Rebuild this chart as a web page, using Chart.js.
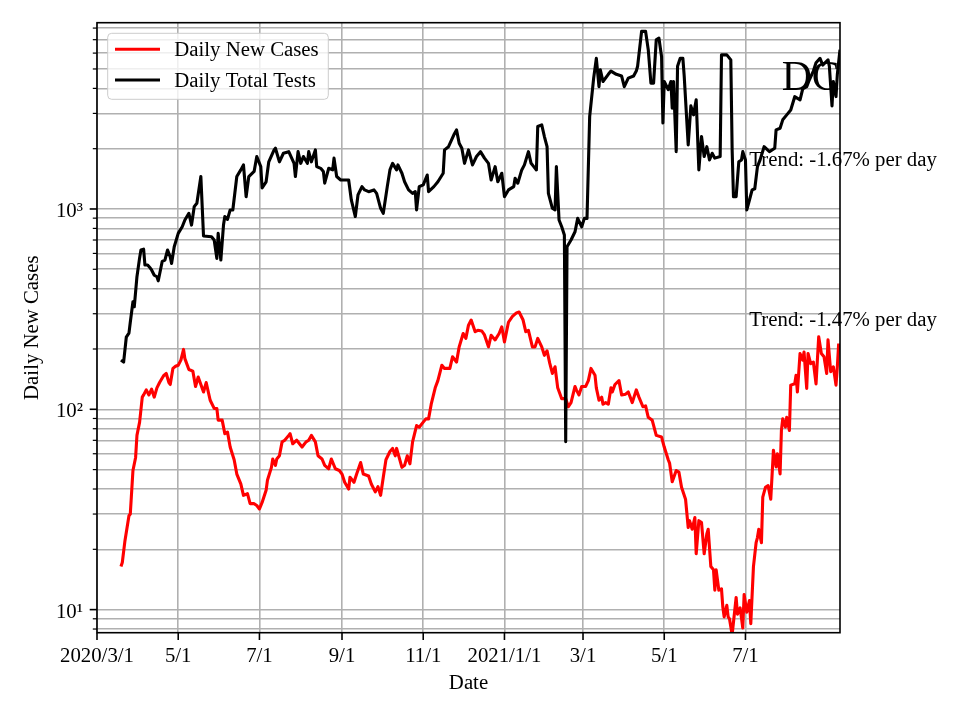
<!DOCTYPE html>
<html>
<head>
<meta charset="utf-8">
<script src="https://cdn.jsdelivr.net/npm/chart.js@4.4.0/dist/chart.umd.min.js"></script>
<style>
html, body { margin: 0; padding: 0; background: #fff; }
</style>
</head>
<body>
<canvas id="chart" width="960" height="720"></canvas>
<script>
// Days are counted from 2020-03-01
const xTickDays = [0, 61, 122, 184, 245, 306, 365, 426, 487];
const xTickLabels = ['2020/3/1', '5/1', '7/1', '9/1', '11/1', '2021/1/1', '3/1', '5/1', '7/1'];
const yTickValues = [8, 9, 10, 20, 30, 40, 50, 60, 70, 80, 90, 100, 200, 300, 400, 500, 600, 700, 800, 900,
  1000, 2000, 3000, 4000, 5000, 6000, 7000, 8000];
const yTickLabels = { 10: '10¹', 100: '10²', 1000: '10³' };

const caseDays = [18,19,21,24,25,27,29,30,32,34,35,37,39,41,43,45,47,50,52,54,
  55,57,59,61,63,65,66,69,72,74,76,78,80,82,85,88,90,91,94,96,
  98,100,103,105,108,110,113,115,118,120,122,124,127,128,131,132,134,135,137,139,
  141,144,145,147,150,154,157,159,161,164,166,169,171,174,176,179,182,184,186,189,
  190,193,195,198,200,204,206,209,211,213,215,217,220,222,224,225,229,231,233,235,
  237,240,242,245,247,249,251,254,256,259,261,265,267,270,272,275,277,279,281,284,
  286,289,291,294,296,299,302,304,306,309,312,315,317,320,322,324,327,329,331,334,
  336,338,340,342,344,346,349,352,354,356,359,360,362,364,367,369,371,374,375,377,
  379,380,382,384,386,387,389,392,394,397,399,402,405,407,410,412,414,417,420,424,
  426,429,430,432,435,437,439,442,444,445,447,449,450,452,454,456,458,459,461,463,
  464,465,467,469,470,471,473,474,475,477,480,481,483,485,486,488,490,491,493,495,
  496,497,499,500,502,504,506,508,510,511,513,514,515,517,518,520,521,524,525,526,
  528,530,531,533,534,536,538,540,542,544,546,548,549,551,553,555,556,557];
const caseValues = [16.4,17.2,22.1,29.4,30.0,49.5,57.5,74.1,86.3,115,118,125,118,126,115,128,136,147,151,136,
  133,160,164,166,176,199,179,158,155,130,145,133,122,136,111,101,101,88.3,88.3,75.6,
  77,64.8,56,47.5,42.4,37.2,37.9,33.8,33.8,33.1,31.8,34.3,39.4,44.2,51.3,56.5,52.5,56.5,58.6,68.8,
  70.1,74.1,75.6,67.3,70.1,64.8,68.8,70.1,74.1,68.8,58.6,56.5,52.5,50.5,56.5,50.5,49.5,47.5,43.2,40.0,
  45.8,43.2,47.5,54.2,47.5,46.5,42.4,38.7,41.1,37.2,45.8,56,61.6,63.8,58.6,63.8,51.3,52.5,58.6,53.4,
  68.8,83,81.4,86.3,89.6,89.6,106,128,139,166,160,160,183,172,205,239,226,263,279,244,
  248,246,235,205,234,222,239,258,217,272,291,303,306,279,244,248,205,205,226,205,
  186,196,170,151,163,128,113,113,103,108,130,125,118,130,130,139,160,148,128,111,
  115,106,108,106,128,122,133,139,118,119,122,108,125,115,103,104,91.2,88.1,74.1,72.7,
  64.8,56,53.9,43.5,49.5,48.6,40.8,35.6,25.7,27.8,25.2,28.8,19.0,27.8,27.2,19.0,23.9,25.2,16.4,15.8,
  12.5,15.8,12.5,12.7,10.3,9.2,10.5,9.2,9.0,7.5,11.5,9.5,10.2,8.1,11.9,9.7,11.1,8.5,16.4,21.6,
  22.9,25.2,21.6,36.4,40.8,41.6,35.6,62.4,51.6,60.0,47.6,78.5,89.6,81.5,91.2,78.5,132,134,148,122,
  190,176,193,127,190,169,172,134,230,190,183,151,222,154,163,132,163,213];

const testDays = [18,20,22,24,25,27,28,30,32,33,35,36,38,40,41,43,45,46,49,51,
  53,55,56,58,61,64,66,69,71,73,75,78,80,86,88,90,91,93,95,96,
  98,100,102,105,108,110,112,114,118,120,123,124,127,129,133,134,137,140,144,148,
  149,151,153,155,158,159,161,164,165,168,170,171,174,177,178,180,183,186,189,191,
  194,196,199,201,204,208,210,213,215,218,220,222,225,226,229,231,234,237,239,240,
  242,245,248,249,253,256,260,261,264,268,270,272,274,276,279,282,285,288,291,294,
  296,299,301,304,306,309,313,314,316,319,321,324,326,328,330,331,334,336,338,339,
  342,344,345,347,349,351,352,353,356,359,361,364,366,368,370,373,375,377,378,380,
  384,386,390,394,396,399,403,405,406,409,412,414,416,418,420,422,424,425,426,429,
  431,432,433,435,436,438,440,441,444,446,448,450,452,454,456,458,460,462,464,468,
  469,473,476,477,478,480,482,484,485,487,488,490,492,494,496,498,501,505,509,510,
  513,515,518,521,524,528,530,533,535,538,540,543,545,549,550,552,553,555,556,558];
const testValues = [176,172,229,240,272,344,325,459,570,624,630,525,525,507,496,467,459,438,548,556,
  624,577,535,648,756,815,881,952,831,1027,1068,1452,733,727,700,567,756,556,831,917,
  887,989,989,1452,1567,1660,1152,1452,1540,1828,1627,1273,1367,1720,1972,2010,1720,1897,1933,1690,
  1452,1933,1690,1828,1690,1933,1720,1972,1627,1596,1540,1345,1596,1567,1794,1452,1396,1396,1396,1109,
  917,1175,1293,1245,1220,1245,1197,1008,952,1293,1567,1690,1567,1660,1508,1367,1245,1197,1220,989,
  1293,1320,1478,1220,1293,1367,1508,1972,2046,2347,2482,2130,2010,1690,1972,1660,1828,1933,1794,1690,
  1396,1627,1367,1508,1152,1245,1293,1424,1345,1567,1660,1933,1690,1627,1567,2580,2630,2300,2046,1197,
  1008,989,1627,881,815,741,69,648,700,770,898,815,898,898,2890,4500,5650,4080,4955,4330,
  4700,4880,4700,4610,4080,4500,4610,4880,5160,7700,7700,6240,4250,4250,6990,7130,5760,2687,4330,3940,
  4330,3185,4330,1933,5160,5650,5650,4610,2087,3270,2950,3508,1567,2300,1828,2046,1758,1897,1794,1828,
  5880,5880,5550,1972,1152,1152,1720,1758,1933,1758,989,1109,1245,1262,1627,1758,2046,1933,2010,2482,
  2530,2786,2950,3120,3635,3508,3980,4080,4416,4880,5370,5650,5230,5550,5160,3270,4330,3640,4700,6240];

const regionName = 'DC';
const trendTexts = ['Trend: -1.67% per day', 'Trend: -1.47% per day'];

const serif = "'Liberation Serif', 'Times New Roman', serif";
Chart.defaults.font.family = serif;
Chart.defaults.font.size = 20.8;
Chart.defaults.color = '#000';

function toPoints(days, values) {
  return days.map((d, i) => ({ x: d, y: values[i] }));
}

// spines, tick marks, annotations and the legend box
const decor = {
  id: 'decor',
  afterDraw(chart) {
    const { ctx, chartArea: a, scales: { x, y } } = chart;
    const w = a.right - a.left, h = a.bottom - a.top;
    ctx.save();
    ctx.strokeStyle = '#000';
    ctx.lineWidth = 1.6;
    x.ticks.forEach(t => {
      const px = x.getPixelForValue(t.value);
      ctx.beginPath(); ctx.moveTo(px, a.bottom); ctx.lineTo(px, a.bottom + 7.3); ctx.stroke();
    });
    y.ticks.forEach(t => {
      const py = y.getPixelForValue(t.value);
      const major = yTickLabels[t.value] !== undefined;
      ctx.lineWidth = major ? 1.6 : 1.2;
      ctx.beginPath(); ctx.moveTo(a.left, py); ctx.lineTo(a.left - (major ? 7.3 : 4.2), py); ctx.stroke();
    });
    ctx.lineWidth = 1.6;
    ctx.strokeRect(a.left, a.top, w, h);

    ctx.fillStyle = '#000';
    ctx.textAlign = 'left';
    ctx.textBaseline = 'alphabetic';
    ctx.font = '41.7px ' + serif;
    ctx.fillText(regionName, a.left + 0.9215 * w, a.top + 0.1103 * h);
    ctx.font = '20.8px ' + serif;
    ctx.fillText(trendTexts[0], a.left + 0.878 * w, a.top + 0.2344 * h);
    ctx.fillText(trendTexts[1], a.left + 0.878 * w, a.top + 0.4972 * h);

    // legend
    const lx = a.left + 10.7, ly = a.top + 10.6, lw = 220.6, lh = 66, r = 4;
    ctx.beginPath();
    ctx.moveTo(lx + r, ly);
    ctx.arcTo(lx + lw, ly, lx + lw, ly + lh, r);
    ctx.arcTo(lx + lw, ly + lh, lx, ly + lh, r);
    ctx.arcTo(lx, ly + lh, lx, ly, r);
    ctx.arcTo(lx, ly, lx + lw, ly, r);
    ctx.closePath();
    ctx.fillStyle = 'rgba(255,255,255,0.8)';
    ctx.fill();
    ctx.strokeStyle = '#cccccc';
    ctx.lineWidth = 1;
    ctx.stroke();
    chart.data.datasets.forEach((ds, i) => {
      const cy = ly + 16 + i * 30.7;
      ctx.strokeStyle = ds.borderColor;
      ctx.lineWidth = 3.1;
      ctx.beginPath(); ctx.moveTo(lx + 7.3, cy); ctx.lineTo(lx + 52.3, cy); ctx.stroke();
      ctx.fillStyle = '#000';
      ctx.fillText(ds.label, lx + 66.6, cy + 6.8);
    });
    ctx.restore();
  }
};

const chart = new Chart(document.getElementById('chart'), {
  type: 'line',
  data: {
    datasets: [
      { label: 'Daily New Cases', data: toPoints(caseDays, caseValues), borderColor: '#ff0000', order: 1 },
      { label: 'Daily Total Tests', data: toPoints(testDays, testValues), borderColor: '#000000', order: 0 }
    ]
  },
  options: {
    responsive: false,
    animation: false,
    devicePixelRatio: 1,
    layout: { padding: { left: 0, right: 120, top: 22.7, bottom: 0 } },
    plugins: { legend: { display: false }, tooltip: { enabled: false } },
    elements: {
      point: { radius: 0 },
      line: { tension: 0, borderWidth: 3.1, borderJoinStyle: 'round', fill: false }
    },
    scales: {
      x: {
        type: 'linear',
        min: 0,
        max: 558,
        bounds: 'data',
        afterBuildTicks: s => { s.ticks = xTickDays.map(v => ({ value: v })); },
        afterFit: s => { s.height = 87.3; s.paddingLeft = 0; s.paddingRight = 0; },
        grid: { color: '#b0b0b0', lineWidth: 1.6, drawTicks: false },
        border: { display: false },
        ticks: {
          autoSkip: false, maxRotation: 0, minRotation: 0, padding: 11,
          font: { size: 20.8, lineHeight: 1.2 },
          callback: v => xTickLabels[xTickDays.indexOf(v)]
        },
        title: { display: true, text: 'Date', font: { size: 20.8, lineHeight: 1.2 }, padding: { top: 0, bottom: 23.5 } }
      },
      y: {
        type: 'logarithmic',
        min: 7.67,
        max: 8510,
        bounds: 'data',
        afterBuildTicks: s => { s.ticks = yTickValues.map(v => ({ value: v })); },
        afterFit: s => { s.width = 97; s.paddingTop = 0; s.paddingBottom = 0; },
        grid: { color: '#b0b0b0', lineWidth: 1.6, drawTicks: false },
        border: { display: false },
        ticks: {
          autoSkip: false, padding: 14, labelOffset: 2.7,
          font: { size: 20.8, lineHeight: 1.2 },
          callback: v => yTickLabels[v] || ''
        },
        title: { display: true, text: 'Daily New Cases', font: { size: 20.8, lineHeight: 1.2 }, padding: { top: 20.5, bottom: 0 } }
      }
    }
  },
  plugins: [decor]
});
</script>
</body>
</html>
